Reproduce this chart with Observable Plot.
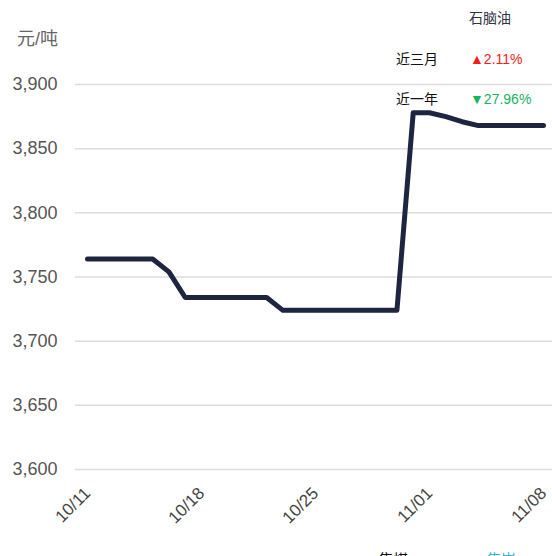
<!DOCTYPE html>
<html><head><meta charset="utf-8">
<script src="https://cdn.jsdelivr.net/npm/d3@7"></script>
<script src="https://cdn.jsdelivr.net/npm/@observablehq/plot@0.6"></script>
<style>
body{margin:0;background:#fff;}
#wrap{position:relative;width:552px;height:556px;overflow:hidden;font-family:"Liberation Sans","Noto Sans CJK SC",sans-serif;}
#wrap svg{position:absolute;left:0;top:0;}
.t{position:absolute;white-space:nowrap;line-height:1;}
</style></head><body><div id="wrap"></div>
<script>
const year = 2024;
const dates = ["10/11","10/12","10/13","10/14","10/15","10/16","10/17","10/18","10/19","10/20",
  "10/21","10/22","10/23","10/24","10/25","10/26","10/27","10/28","10/29","10/30",
  "10/31","11/01","11/02","11/03","11/04","11/05","11/06","11/07","11/08"];
const prices = [3764,3764,3764,3764,3764,3754,3734,3734,3734,3734,
  3734,3734,3724,3724,3724,3724,3724,3724,3724,3724,
  3878,3878,3875,3871,3868,3868,3868,3868,3868];
const xTicks = ["10/11","10/18","10/25","11/01","11/08"];
const yTicks = [3600,3650,3700,3750,3800,3850,3900];
const unitLabel = "元/吨";
const seriesName = "石脑油";
const periodLabels = ["近三月","近一年"];
const periodChanges = [2.11, -27.96];
const footerLabels = ["焦煤","焦炭"];

const parse = s => { const [m, d] = s.split("/").map(Number); return new Date(year, m - 1, d); };
const data = dates.map((d, i) => ({date: parse(d), price: prices[i]}));
const FONT = '"Liberation Sans","Noto Sans CJK SC",sans-serif';

const chart = Plot.plot({
  width: 552, height: 556,
  marginLeft: 87, marginRight: 9, marginTop: 84, marginBottom: 87,
  style: {fontFamily: FONT, background: "transparent", overflow: "visible"},
  x: {type: "time", domain: [parse(dates[0]), parse(dates[dates.length - 1])]},
  y: {domain: [3600, 3900]},
  marks: [
    Plot.ruleY(yTicks, {stroke: "#dcdcdc", strokeWidth: 1.5, insetLeft: -12, insetRight: -9}),
    Plot.axisY({ticks: yTicks, tickFormat: d3.format(","), tickSize: 0, tickPadding: 30,
      fontSize: 18, color: "#555", label: null}),
    Plot.axisX({ticks: xTicks.map(parse), tickFormat: d3.timeFormat("%m/%d"), tickRotate: -45,
      tickSize: 0, tickPadding: 21, fontSize: 17, color: "#444", label: null}),
    Plot.line(data, {x: "date", y: "price", stroke: "#1e2540", strokeWidth: 5,
      strokeLinejoin: "round", strokeLinecap: "round"})
  ]
});
const wrap = document.getElementById("wrap");
wrap.appendChild(chart);

function addText(txt, left, top, size, color) {
  const el = document.createElement("div");
  el.className = "t";
  el.textContent = txt;
  el.style.left = left + "px";
  el.style.top = top + "px";
  el.style.fontSize = size + "px";
  el.style.color = color;
  wrap.appendChild(el);
}
const fmtChange = v => (v >= 0 ? "▲" : "▼") + Math.abs(v).toFixed(2) + "%";
addText(unitLabel, 17, 30, 18, "#666");
addText(seriesName, 469, 11, 14, "#2e3242");
periodLabels.forEach((lab, i) => {
  const cy = [59, 99][i];
  addText(lab, 396, cy - 7, 14, "#111");
  addText(fmtChange(periodChanges[i]), 470, cy - 7, 14, periodChanges[i] >= 0 ? "#ff1a1a" : "#19b35c");
});
addText(footerLabels[0], 378, 552, 15, "#111");
addText(footerLabels[1], 486, 552, 15, "#3bb4d8");
</script></body></html>
